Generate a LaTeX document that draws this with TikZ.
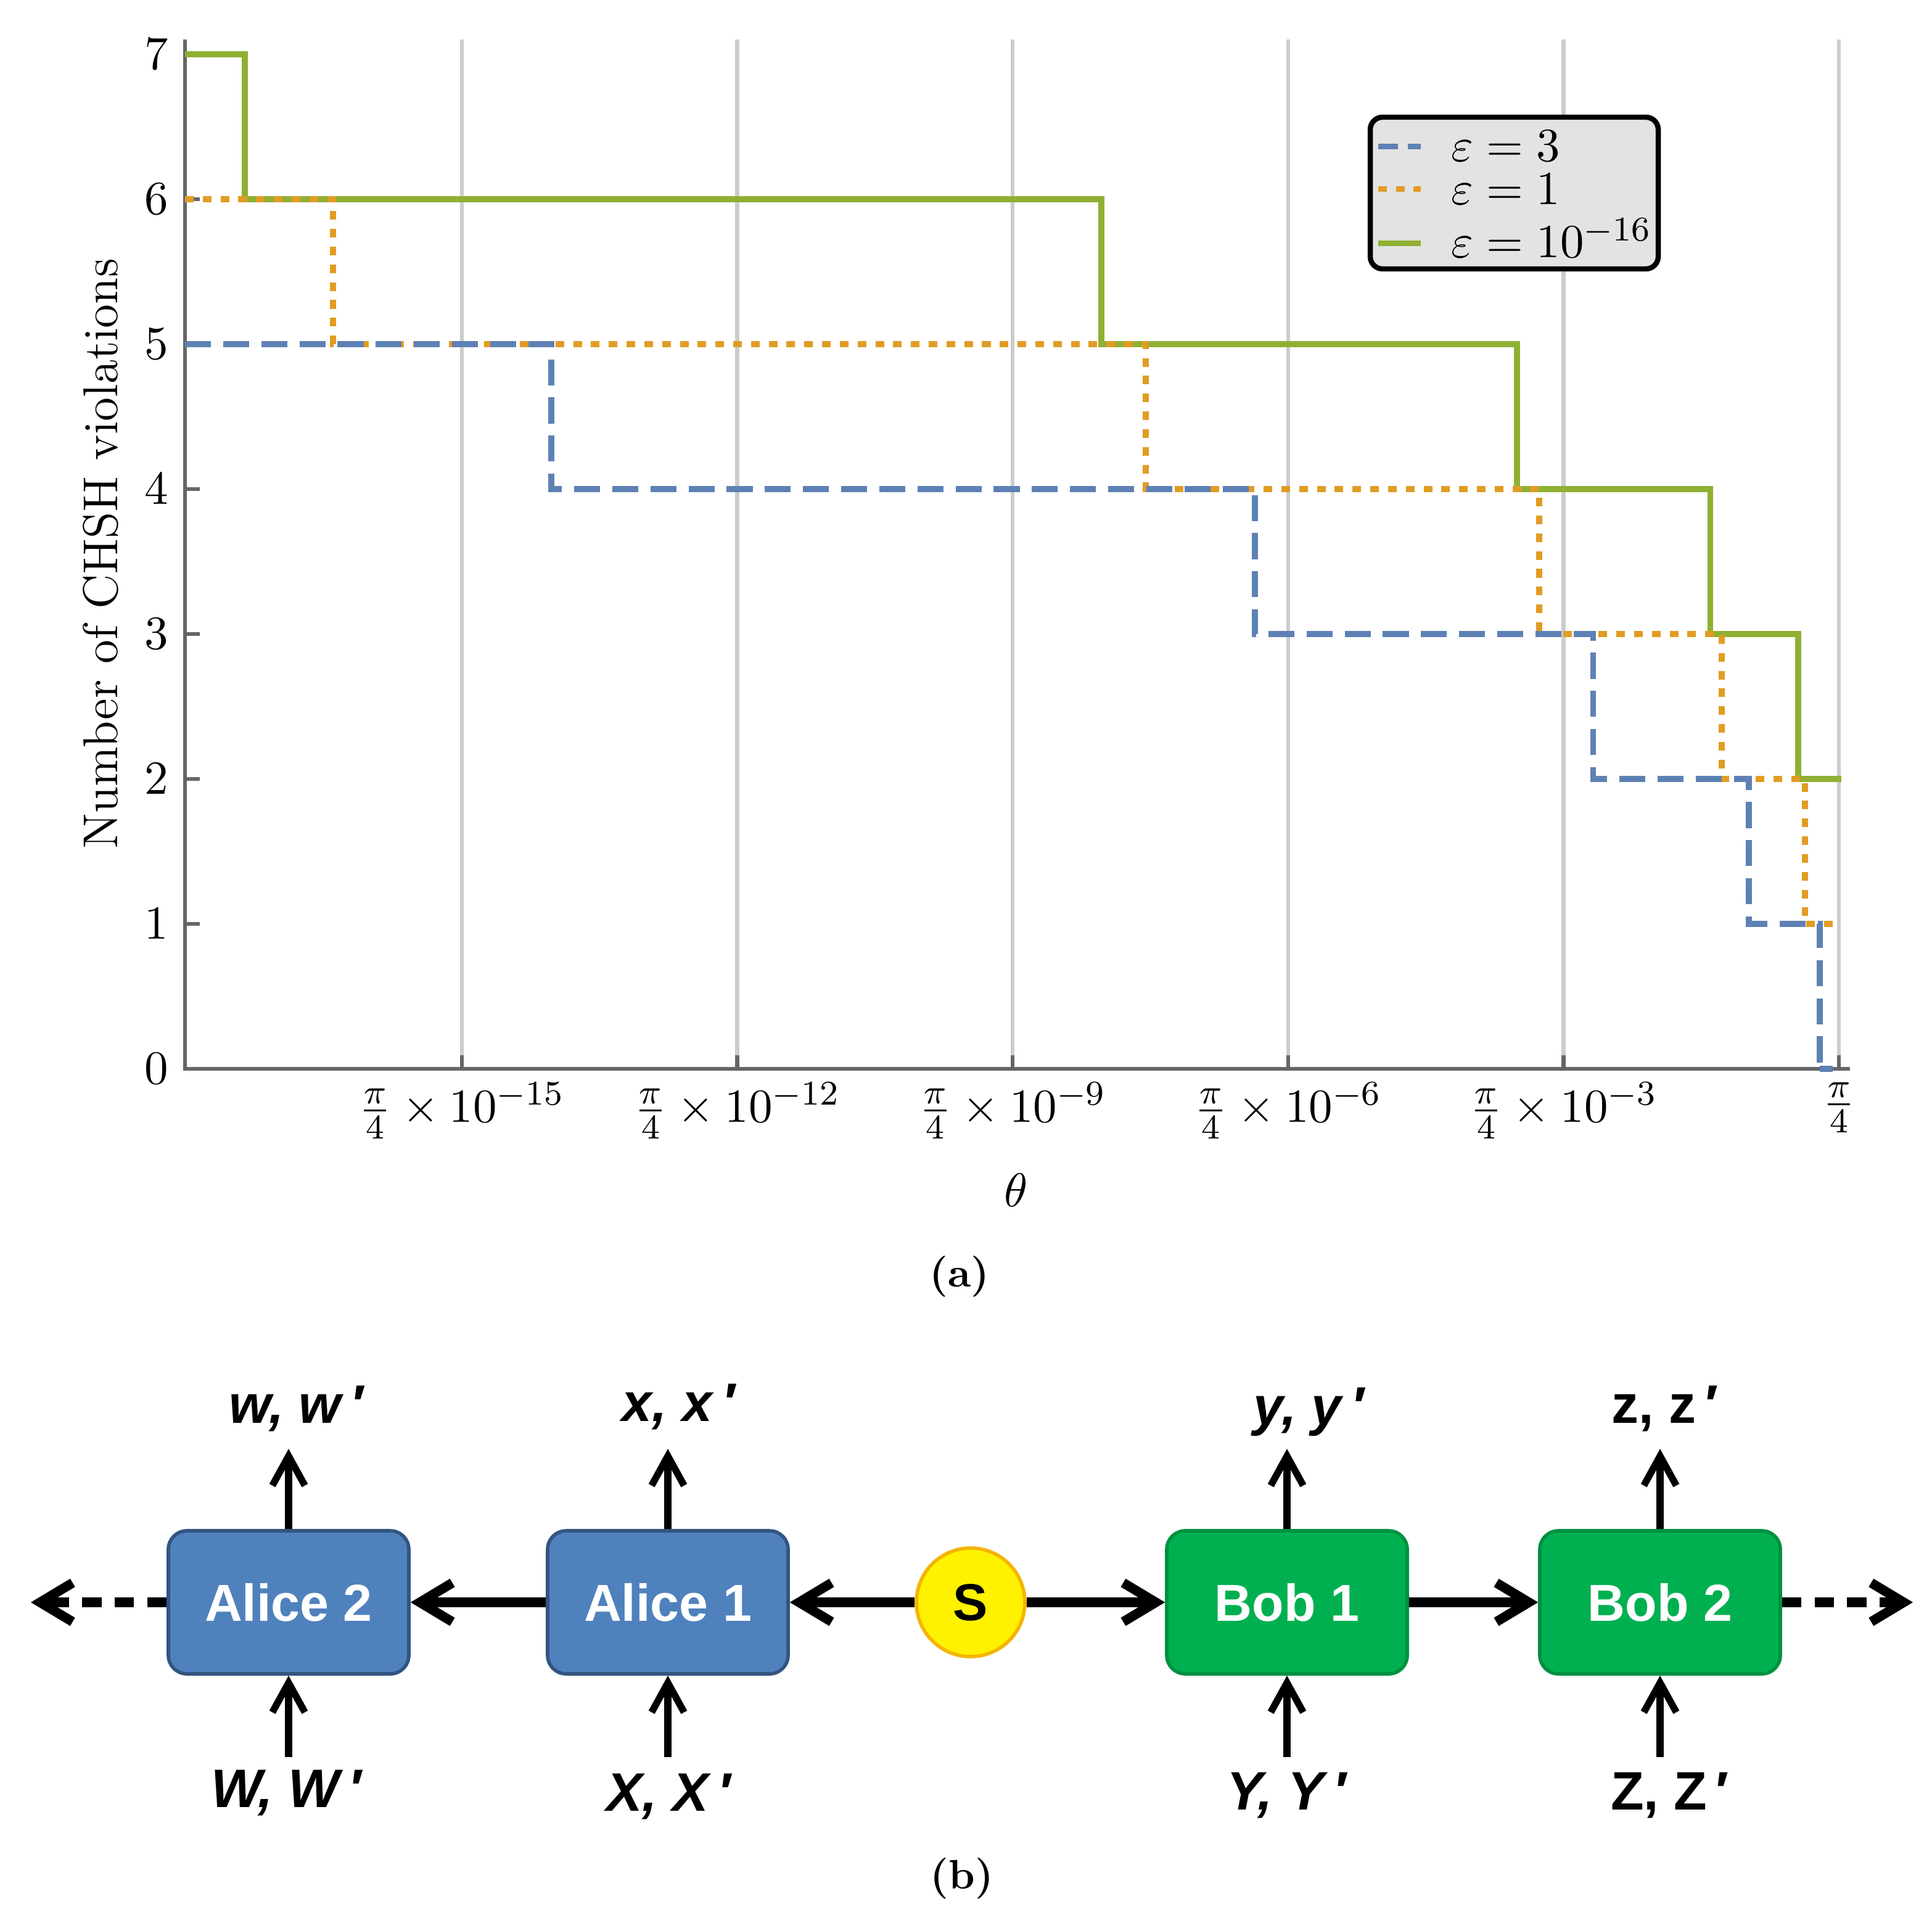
\documentclass[tikz,border=0pt]{standalone}
\usepackage{fontspec}
\newfontfamily\arialfont{Liberation Sans}
\usetikzlibrary{arrows.meta,calc}
\definecolor{mblue}{RGB}{94,129,181}
\definecolor{morange}{RGB}{225,156,36}
\definecolor{mgreen}{RGB}{143,176,50}
\definecolor{gridgray}{RGB}{204,204,204}
\definecolor{axgray}{RGB}{102,102,102}
\definecolor{legfill}{RGB}{227,227,227}
\definecolor{aliceblue}{RGB}{79,129,189}
\definecolor{aliceedge}{RGB}{50,85,128}
\definecolor{bobgreen}{RGB}{0,176,80}
\definecolor{bobedge}{RGB}{0,145,65}
\definecolor{syellow}{RGB}{255,242,0}
\definecolor{sedge}{RGB}{245,180,0}
\begin{document}
\begin{tikzpicture}[x=0.1mm,y=-0.1mm,
  gridline/.style={gridgray,line width=0.9pt},
  axisline/.style={axgray,line width=0.9pt},
  epsthree/.style={mblue,line width=1.35pt,dash pattern=on 6pt off 2.8pt},
  epsone/.style={morange,line width=1.35pt,dash pattern=on 2pt off 2.1pt},
  epssmall/.style={mgreen,line width=1.35pt},
  plotfont/.style={font=\fontsize{11}{13}\selectfont},
  ticklab/.style={plotfont,inner sep=0pt},
  party/.style={line width=0.8pt,rounded corners=1.5mm,minimum width=19.5mm,minimum height=11.6mm,text=white,font=\arialfont\bfseries\fontsize{12}{14}\selectfont},
  alice/.style={party,fill=aliceblue,draw=aliceedge},
  bob/.style={party,fill=bobgreen,draw=bobedge},
  flow/.style={line width=2.2pt,-{Straight Barb[length=7.5pt,width=9pt]}},
  io/.style={line width=1.6pt,-{Straight Barb[length=6.8pt,width=7.5pt]}},
  ext/.style={flow,dash pattern=on 4.5pt off 3pt},
  iolab/.style={font=\arialfont\bfseries\itshape\fontsize{12.5}{14}\selectfont,inner sep=0pt,anchor=base},
  iolabup/.style={font=\arialfont\bfseries\fontsize{12.5}{14}\selectfont,inner sep=0pt,anchor=base},
  capt/.style={font=\bfseries\fontsize{9.5}{11}\selectfont,inner sep=0pt,anchor=base}
]
\useasboundingbox (0,0) rectangle (1566.5,1552);

% ---------- (a) plot ----------
\foreach \gx in {374.35,597.7,821.05,1044.4,1267.75,1491.1}
  \draw[gridline] (\gx,32) -- (\gx,866.5);
\draw[axisline] (150,32) -- (150,866.5) -- (1500,866.5);
\foreach \v/\yy in {0/866.5,1/749,2/631.5,3/514,4/396.5,5/279,6/161.5,7/44} {
  \draw[axisline] (150,\yy) -- (162,\yy);
  \node[ticklab,anchor=east] at (137,\yy) {$\v$};
}
\foreach \gx in {374.35,597.7,821.05,1044.4,1267.75,1491.1}
  \draw[axisline] (\gx,866.5) -- (\gx,855.5);

\node[ticklab,anchor=north] (t15) at (374.35,877) {$\frac{\pi}{4}\times 10^{-15}$};
\node[ticklab,anchor=north] (t12) at (597.7,877) {$\frac{\pi}{4}\times 10^{-12}$};
\node[ticklab,anchor=north] (t9) at (821.05,877) {$\frac{\pi}{4}\times 10^{-9}$};
\node[ticklab,anchor=north] (t6) at (1044.4,877) {$\frac{\pi}{4}\times 10^{-6}$};
\node[ticklab,anchor=north] (t3) at (1267.75,877) {$\frac{\pi}{4}\times 10^{-3}$};
\node[ticklab,anchor=north] (t0) at (1491.1,877) {$\frac{\pi}{4}$};

\node[ticklab,anchor=base] (xlab) at (824,978) {$\theta$};
\node[ticklab,anchor=base,rotate=90,font=\fontsize{11.3}{13}\selectfont] (ylab) at (95,449) {Number of CHSH violations};

% step curves
\draw[epssmall] (150,44) -| (198.5,161.5) -| (893,279) -| (1230,396.5) -| (1386.6,514) -| (1458,631.5) -- (1493,631.5);
\draw[epsone] (150,161.5) -| (270,279) -| (929,396.5) -| (1248,514) -| (1396,631.5) -| (1463.5,749) -- (1491,749);
\draw[epsthree] (150,279) -| (447,396.5) -| (1017.4,514) -| (1291.6,631.5) -| (1418,749) -| (1475.4,866.5);
\draw[mblue,line width=1.35pt] (1475.4,866.5) -- (1486,866.5);

% legend
\draw[fill=legfill,line width=1.2pt,rounded corners=1mm] (1111,95) rectangle (1344.5,218);
\draw[epsthree,dash pattern=on 4.6pt off 2.2pt] (1117.4,118.7) -- (1152.2,118.7);
\draw[epsone] (1117.4,153.3) -- (1152.2,153.3);
\draw[epssmall] (1117.4,197.2) -- (1152.2,197.2);
\node[ticklab,anchor=base west] (leg1) at (1176,130.8) {$\varepsilon = 3$};
\node[ticklab,anchor=base west] (leg2) at (1176,165.8) {$\varepsilon = 1$};
\node[ticklab,anchor=base west] (leg3) at (1176,209) {$\varepsilon = 10^{-16}$};

\node[capt] (capa) at (778,1043) {(a)};

% ---------- (b) diagram ----------
\node[alice] (A2) at (234,1299) {Alice 2};
\node[alice] (A1) at (541.5,1299) {Alice 1};
\node[circle,fill=syellow,draw=sedge,line width=0.8pt,minimum size=8.8mm,inner sep=0pt,
      font=\arialfont\bfseries\fontsize{12}{14}\selectfont] (S) at (787,1299) {S};
\node[bob] (B1) at (1043.5,1299) {Bob 1};
\node[bob] (B2) at (1346,1299) {Bob 2};

\draw[flow] (A1.west) -- (A2.east);
\draw[flow] (S.west) -- (A1.east);
\draw[flow] (S.east) -- (B1.west);
\draw[flow] (B1.east) -- (B2.west);
\coordinate (Lend) at (25,1299);
\coordinate (Rend) at (1551,1299);
\draw[ext] (A2.west) -- (Lend);
\draw[ext] (B2.east) -- (Rend);

\foreach \n in {A2,A1,B1,B2} {
  \coordinate (\n t) at ($(\n.north)+(0,-65)$);
  \coordinate (\n b) at ($(\n.south)+(0,66)$);
  \draw[io] (\n.north) -- (\n t);
  \draw[io] (\n b) -- (\n.south);
}

\node[iolab] (lw) at (240,1153.6) {w, w\,′};
\node[iolab] (lx) at (550,1152) {x, x\,′};
\node[iolab] (ly) at (1061,1155) {y, y\,′};
\node[iolabup] (lz) at (1350,1153.6) {z, z\,′};
\node[iolab] (lW) at (232,1465) {W, W\,′};
\node[iolab] (lX) at (542,1468) {X, X\,′};
\node[iolab] (lY) at (1043,1467) {Y, Y\,′};
\node[iolabup] (lZ) at (1354,1467) {Z, Z\,′};

\node[capt] (capb) at (780,1531) {(b)};
\end{tikzpicture}
\end{document}
